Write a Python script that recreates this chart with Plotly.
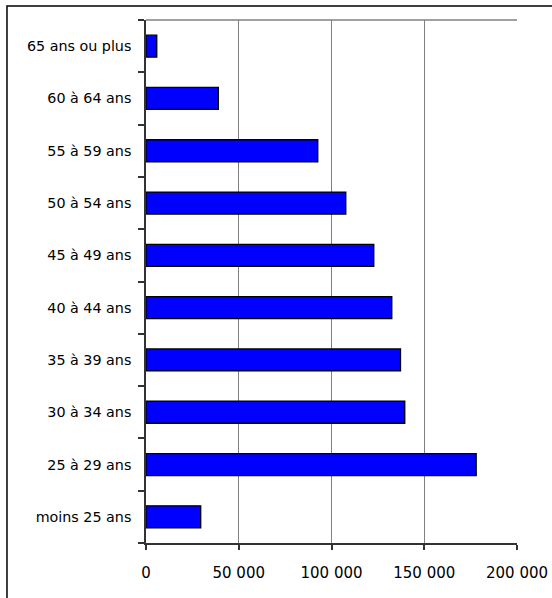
import plotly.graph_objects as go

categories = ["moins 25 ans", "25 à 29 ans", "30 à 34 ans", "35 à 39 ans", "40 à 44 ans",
              "45 à 49 ans", "50 à 54 ans", "55 à 59 ans", "60 à 64 ans", "65 ans ou plus"]
values = [29500, 178000, 139500, 137200, 132500, 122800, 107700, 92600, 39000, 5800]
x_ticks = [0, 50000, 100000, 150000, 200000]

FONT = "DejaVu Sans"

fig = go.Figure()
fig.add_trace(go.Bar(
    y=categories, x=values, orientation="h",
    marker=dict(color="#0000FF", line=dict(color="#000000", width=1.3)),
    width=0.42,
))

fig.update_layout(
    width=552, height=598,
    margin=dict(l=146, r=35, t=20, b=55),
    paper_bgcolor="white", plot_bgcolor="white",
    separators=", ",
    showlegend=False,
    font=dict(family=FONT, size=14, color="#000000"),
    shapes=[
        dict(type="line", xref="paper", yref="paper", x0=0, x1=1, y0=1, y1=1,
             line=dict(color="#808080", width=1.5)),
        dict(type="rect", xref="paper", yref="paper", x0=-0.3747, x1=1.2, y0=-0.2, y1=1.0268,
             line=dict(color="#000000", width=1.5), fillcolor="rgba(0,0,0,0)", layer="below"),
    ],
)

fig.update_xaxes(
    range=[0, 200000], tickvals=x_ticks, tickformat=",d",
    showgrid=True, gridcolor="#808080", gridwidth=1,
    showline=True, linecolor="#333333", linewidth=1.5,
    ticks="outside", ticklen=5, tickcolor="#333333", tickwidth=1.5,
    ticklabelstandoff=10, zeroline=False, automargin=False,
    tickfont=dict(family=FONT, size=15),
)
fig.update_yaxes(
    type="category", categoryorder="array", categoryarray=categories,
    range=[-0.5, 9.5],
    showline=True, linecolor="#333333", linewidth=1.5,
    ticks="outside", ticklen=6, tickcolor="#333333", tickwidth=1.5,
    tickson="boundaries", showgrid=False, automargin=False,
    ticklabelstandoff=10,
    tickfont=dict(family=FONT, size=14.3),
)

fig.write_html("out.html", config={"displayModeBar": False},
               post_script="document.body.style.margin='0px';")
